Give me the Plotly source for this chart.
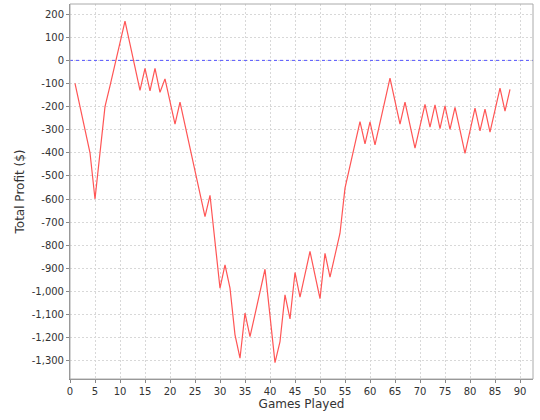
import plotly.graph_objects as go

games = list(range(1, 89))
profit = [
    -100, -200, -300, -400, -600, -400, -200, -110, -16, 77,
    170, 70, -30, -130, -35, -132, -35, -138, -80, -178,
    -276, -181, -280, -379, -478, -577, -676, -584, -785, -986,
    -885, -986, -1188, -1289, -1094, -1196, -1099, -1001, -904, -1106,
    -1308, -1217, -1015, -1119, -918, -1025, -926, -827, -929, -1031,
    -835, -938, -843, -748, -553, -460, -358, -265, -361, -266,
    -366, -268, -171, -77, -176, -276, -181, -280, -380, -285,
    -190, -289, -193, -295, -197, -299, -203, -302, -402, -305,
    -207, -305, -211, -311, -215, -120, -220, -125,
]

y_tickvals = list(range(-1300, 201, 100))
y_ticktext = [("-" if v < 0 else "") + f"{abs(v):,}" for v in y_tickvals]
x_tickvals = list(range(0, 91, 5))

font = "DejaVu Sans"

fig = go.Figure()
fig.add_trace(go.Scatter(
    x=games, y=profit, mode="lines",
    line=dict(color="#FF5555", width=1.2),
    showlegend=False, hoverinfo="x+y",
))

axis_common = dict(
    showline=True, linecolor="#888888", linewidth=1, mirror=False,
    showgrid=True, gridcolor="#D8D8D8", griddash="2px,2px", gridwidth=1,
    zeroline=False, ticks="outside", ticklen=3, tickcolor="#888888",
    tickfont=dict(family=font, size=10, color="#333333"),
    automargin=False,
)

fig.update_layout(
    width=540, height=420,
    margin=dict(l=70, r=7, t=4, b=41),
    paper_bgcolor="white", plot_bgcolor="white",
    xaxis=dict(
        range=[0, 92.6], tickvals=x_tickvals,
        title=dict(text="Games Played", font=dict(family=font, size=12, color="#333333"), standoff=2),
        **axis_common,
    ),
    yaxis=dict(
        range=[-1379, 244], tickvals=y_tickvals, ticktext=y_ticktext,
        title=dict(text="Total Profit ($)", font=dict(family=font, size=12, color="#333333"), standoff=4),
        **axis_common,
    ),
    shapes=[
        dict(type="line", xref="paper", yref="y", x0=0, x1=1, y0=0, y1=0,
             line=dict(color="#5555FF", width=1, dash="dot"), layer="above"),
        dict(type="rect", xref="paper", yref="paper", x0=0, y0=0, x1=1, y1=1,
             line=dict(color="#AAAAAA", width=1), layer="above"),
    ],
)

fig.write_html("out.html", config={"displayModeBar": False},
               post_script="document.body.style.margin='0';")
